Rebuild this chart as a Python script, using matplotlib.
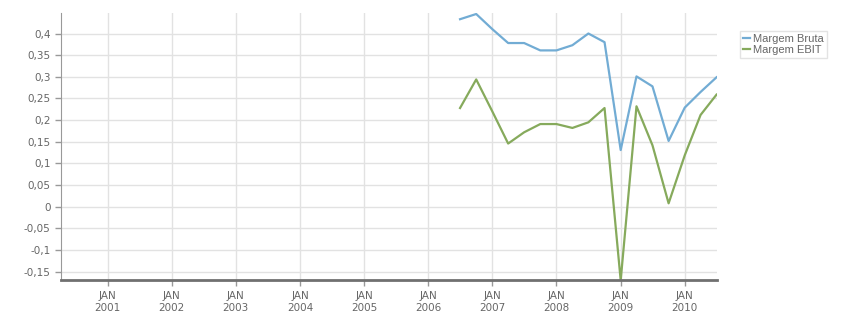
import datetime as dt
import matplotlib
matplotlib.use("Agg")
import matplotlib.pyplot as plt
import matplotlib.dates as mdates
from matplotlib.ticker import FuncFormatter, MultipleLocator

# quarterly data, Jul 2006 .. Jul 2010
quarters = [
    "2006-07", "2006-10", "2007-01", "2007-04", "2007-07", "2007-10",
    "2008-01", "2008-04", "2008-07", "2008-10", "2009-01", "2009-04",
    "2009-07", "2009-10", "2010-01", "2010-04", "2010-07",
]
margem_bruta = [0.433, 0.445, 0.41, 0.378, 0.378, 0.361, 0.361, 0.373, 0.40,
                0.38, 0.131, 0.301, 0.278, 0.152, 0.229, 0.265, 0.299]
margem_ebit = [0.228, 0.294, 0.22, 0.146, 0.172, 0.191, 0.191, 0.182, 0.195,
               0.228, -0.17, 0.232, 0.142, 0.008, 0.119, 0.212, 0.259]

dates = [dt.datetime.strptime(q, "%Y-%m") for q in quarters]

fig = plt.figure(figsize=(8.51, 3.13), dpi=100)
ax = fig.add_axes([0.0717, 0.1054, 0.7703, 0.8526])

ax.plot(dates, margem_bruta, color="#72acd4", lw=1.6, label="Margem Bruta")
ax.plot(dates, margem_ebit, color="#86aa5c", lw=1.6, label="Margem EBIT")

ax.set_xlim(dt.datetime(2000, 4, 10), dt.datetime(2010, 7, 1))
ax.set_ylim(-0.169, 0.447)

ax.xaxis.set_major_locator(mdates.YearLocator())
ax.xaxis.set_major_formatter(mdates.DateFormatter("JAN\n%Y"))
ax.yaxis.set_major_locator(MultipleLocator(0.05))
ax.yaxis.set_major_formatter(FuncFormatter(
    lambda v, p: ("%g" % round(v, 2)).replace(".", ",") if abs(v) > 1e-9 else "0"))

ax.grid(True, color="#e2e2e2", lw=1)
ax.set_axisbelow(True)
for s in ["top", "right"]:
    ax.spines[s].set_visible(False)
ax.spines["left"].set_color("#999999")
ax.spines["bottom"].set_color("#707070")
ax.spines["bottom"].set_linewidth(2)
ax.tick_params(axis="both", colors="#999999", labelcolor="#666666",
               labelsize=7.5, length=4, width=1)
ax.tick_params(axis="x", pad=4)

leg = ax.legend(loc="upper left", bbox_to_anchor=(1.027, 0.955),
                prop={"family": "Liberation Sans", "size": 8},
                handlelength=0.6, handletextpad=0.3, borderpad=0.3,
                labelspacing=0.1, frameon=True, fancybox=False)
leg.get_frame().set_edgecolor("#dddddd")
leg.get_frame().set_linewidth(1)
for t in leg.get_texts():
    t.set_color("#666666")

fig.savefig("out.png", dpi=100)
